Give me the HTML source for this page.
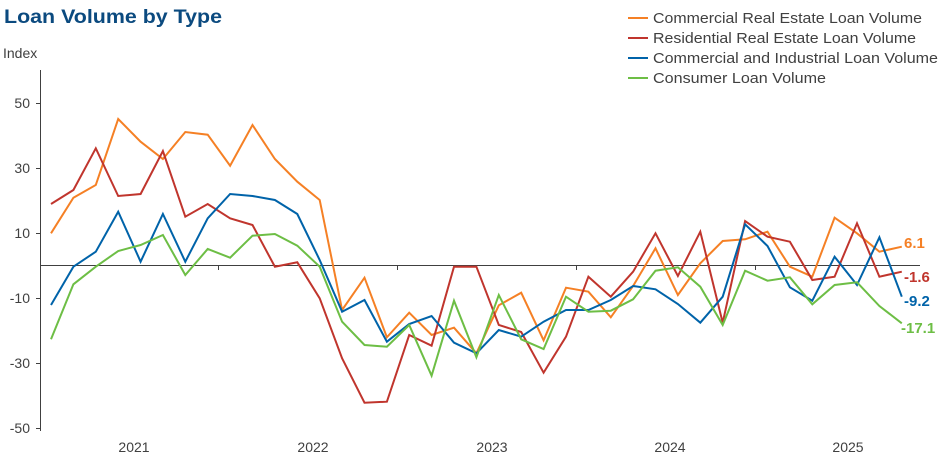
<!DOCTYPE html>
<html><head><meta charset="utf-8"><style>
html,body{margin:0;padding:0;background:#fff;}
svg{display:block;font-family:"Liberation Sans",Arial,sans-serif;}
</style></head><body>
<svg id="c" width="941" height="471" viewBox="0 0 941 471" xmlns="http://www.w3.org/2000/svg">
<text x="4" y="23" font-size="19" font-weight="bold" fill="#0B4A7F" textLength="218" lengthAdjust="spacingAndGlyphs">Loan Volume by Type</text>
<text x="3" y="58" font-size="14" fill="#404040">Index</text>
<g font-size="14" fill="#404040" text-anchor="end">
<text x="30" y="108">50</text>
<text x="30" y="173">30</text>
<text x="30" y="238">10</text>
<text x="30" y="303">-10</text>
<text x="30" y="368">-30</text>
<text x="30" y="433">-50</text>
</g>
<g stroke="#404040" stroke-width="1">
<line x1="40.5" y1="70" x2="40.5" y2="431"/>
<line x1="36" y1="103.5" x2="40" y2="103.5"/>
<line x1="36" y1="168.5" x2="40" y2="168.5"/>
<line x1="36" y1="233.5" x2="40" y2="233.5"/>
<line x1="36" y1="298.5" x2="40" y2="298.5"/>
<line x1="36" y1="363.5" x2="40" y2="363.5"/>
<line x1="36" y1="428.5" x2="40" y2="428.5"/>
<line x1="40" y1="265.5" x2="920" y2="265.5"/>
<line x1="218.5" y1="265" x2="218.5" y2="270"/>
<line x1="397.5" y1="265" x2="397.5" y2="270"/>
<line x1="576.5" y1="265" x2="576.5" y2="270"/>
<line x1="755.5" y1="265" x2="755.5" y2="270"/>
</g>
<g font-size="14" fill="#404040" text-anchor="middle">
<text x="134" y="452">2021</text>
<text x="313" y="452">2022</text>
<text x="492" y="452">2023</text>
<text x="670" y="452">2024</text>
<text x="848" y="452">2025</text>
</g>
<g font-size="15" fill="#404040">
<line x1="628" y1="18" x2="648" y2="18" stroke="#F58025" stroke-width="2"/>
<text x="653" y="23" textLength="269" lengthAdjust="spacingAndGlyphs">Commercial Real Estate Loan Volume</text>
<line x1="628" y1="38" x2="648" y2="38" stroke="#C0352D" stroke-width="2"/>
<text x="653" y="43" textLength="263" lengthAdjust="spacingAndGlyphs">Residential Real Estate Loan Volume</text>
<line x1="628" y1="58" x2="648" y2="58" stroke="#0063A9" stroke-width="2"/>
<text x="653" y="63" textLength="285" lengthAdjust="spacingAndGlyphs">Commercial and Industrial Loan Volume</text>
<line x1="628" y1="78" x2="648" y2="78" stroke="#6DBE45" stroke-width="2"/>
<text x="653" y="83" textLength="173" lengthAdjust="spacingAndGlyphs">Consumer Loan Volume</text>
</g>
<g id="lines" fill="none" stroke-width="2" stroke-linejoin="miter"></g>
<g font-size="15" font-weight="bold">
<text x="904" y="248" fill="#F58025">6.1</text>
<text x="904" y="282" fill="#C0352D">-1.6</text>
<text x="904" y="306" fill="#0063A9">-9.2</text>
<text x="901" y="333" fill="#6DBE45">-17.1</text>
</g>
</svg>
<script>
var S={
"#F58025":[233.3,197.7,185,119,141.7,159,132,134.7,165.7,125,159,181.7,200,310,277.7,337.3,312.7,335,327.7,353.3,305.3,292.7,340.3,287.7,291.7,317.3,286,248.3,295,263.3,241,239.3,231.7,266.7,276.7,217.7,233.3,251.7,246.7],
"#C0352D":[204,190,148.3,196,194,151,216.7,204,218.3,225,266.7,262.3,298.3,358.3,402.7,401.7,335,345.7,266.7,266.7,325,332,372.7,336.7,276.7,296.7,271.7,233.3,276,231.7,322.7,221,236.7,241.7,280,276.7,223.3,276.7,271.7],
"#0063A9":[305,266.7,251.7,211.7,261.7,214,261.7,218.3,194,196,200,214,260,311.7,300,341.7,324,316,342.7,353.3,330,336.7,321.7,310,310,300,286,289.3,304,322.7,296.7,224.3,246,287.3,300.7,256.7,285,237.3,296.7],
"#6DBE45":[339.3,284.3,266.7,251,245,235,275,249,257.7,235.7,234,245.7,266.7,321.7,345,346.7,325,375.7,300.7,357.3,295,339.3,349,296.7,311.7,310.7,299.3,270.7,267.3,286.7,325,270.7,280.7,277.3,304.3,285,282.3,306,323.3]
};
var g=document.getElementById("lines"),ns="http://www.w3.org/2000/svg";
["#F58025","#C0352D","#0063A9","#6DBE45"].forEach(function(c){
var p=S[c].map(function(y,i){return (51+i*22.39).toFixed(1)+","+y}).join(" ");
var e=document.createElementNS(ns,"polyline");e.setAttribute("points",p);e.setAttribute("stroke",c);g.appendChild(e);});
</script>
</body></html>
